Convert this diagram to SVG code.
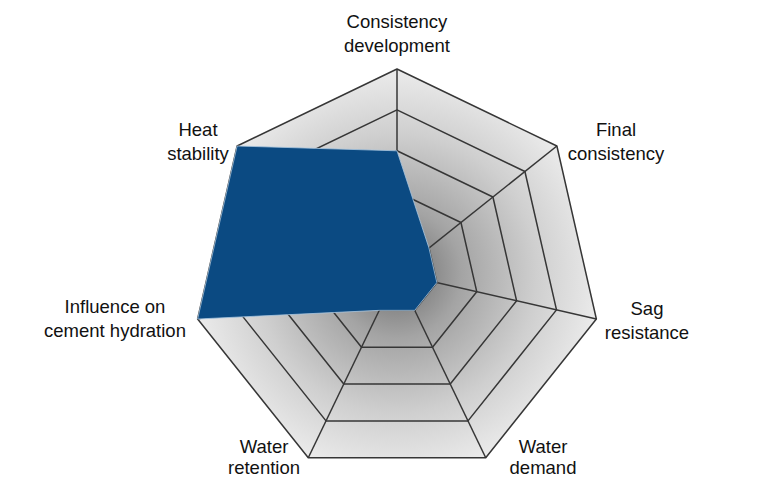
<svg xmlns="http://www.w3.org/2000/svg" width="765" height="479" viewBox="0 0 765 479">
  <defs>
    <radialGradient id="shade" gradientUnits="userSpaceOnUse" cx="397" cy="273.5" r="215">
      <stop offset="0" stop-color="#6a6a6a"/>
      <stop offset="0.3" stop-color="#a4a4a4"/>
      <stop offset="0.65" stop-color="#cfcfcf"/>
      <stop offset="1" stop-color="#f0f0f0"/>
    </radialGradient>
  </defs>
  <style>
    .grid { fill: none; stroke: #363636; stroke-width: 1.5; stroke-linejoin: round; }
    .lbl { font-family: "Liberation Sans", Arial, sans-serif; font-size: 18.5px; fill: #111; text-anchor: middle; }
  </style>
  <rect width="765" height="479" fill="#ffffff"/>

  <g id="chart-area">
    <polygon points="397,69 556.88,146 596.37,319.01 485.73,457.75 308.27,457.75 197.63,319.01 237.12,146" fill="url(#shade)"/>
  </g>

  <g id="grid">
    <polygon class="grid" points="397,232.6 428.98,248 436.87,282.6 414.75,310.35 379.25,310.35 357.13,282.6 365.02,248"/>
    <polygon class="grid" points="397,191.7 460.95,222.5 476.75,291.7 432.49,347.2 361.51,347.2 317.25,291.7 333.05,222.5"/>
    <polygon class="grid" points="397,150.8 492.93,197 516.62,300.8 450.24,384.05 343.76,384.05 277.38,300.8 301.07,197"/>
    <polygon class="grid" points="397,109.9 524.91,171.5 556.5,309.9 467.98,420.9 326.02,420.9 237.5,309.9 269.09,171.5"/>
    <polygon class="grid" points="397,69 556.88,146 596.37,319.01 485.73,457.75 308.27,457.75 197.63,319.01 237.12,146"/>
    <g id="connectors">
      <line class="grid" x1="397" y1="273.5" x2="397" y2="69"/>
      <line class="grid" x1="397" y1="273.5" x2="556.88" y2="146"/>
      <line class="grid" x1="397" y1="273.5" x2="596.37" y2="319.01"/>
      <line class="grid" x1="397" y1="273.5" x2="485.73" y2="457.75"/>
      <line class="grid" x1="397" y1="273.5" x2="308.27" y2="457.75"/>
      <line class="grid" x1="397" y1="273.5" x2="197.63" y2="319.01"/>
      <line class="grid" x1="397" y1="273.5" x2="237.12" y2="146"/>
    </g>
  </g>

  <g id="series">
    <polygon points="397,150.8 428.98,248 436.87,282.6 414.75,310.35 379.25,310.35 197.63,319.01 237.12,146" fill="#0b4a82" stroke="#a9c6df" stroke-width="0.8" stroke-linejoin="round"/>
  </g>

  <g id="label-consistency-development">
    <text class="lbl" x="397" y="28">Consistency</text>
    <text class="lbl" x="397" y="52">development</text>
  </g>
  <g id="label-final-consistency">
    <text class="lbl" x="616" y="136">Final</text>
    <text class="lbl" x="616" y="160">consistency</text>
  </g>
  <g id="label-sag-resistance">
    <text class="lbl" x="647" y="315">Sag</text>
    <text class="lbl" x="647" y="339">resistance</text>
  </g>
  <g id="label-water-demand">
    <text class="lbl" x="543" y="453">Water</text>
    <text class="lbl" x="543" y="474">demand</text>
  </g>
  <g id="label-water-retention">
    <text class="lbl" x="264" y="453">Water</text>
    <text class="lbl" x="264" y="474">retention</text>
  </g>
  <g id="label-influence-cement-hydration">
    <text class="lbl" x="115" y="313">Influence on</text>
    <text class="lbl" x="115" y="337">cement hydration</text>
  </g>
  <g id="label-heat-stability">
    <text class="lbl" x="198" y="136">Heat</text>
    <text class="lbl" x="198" y="160">stability</text>
  </g>
</svg>
